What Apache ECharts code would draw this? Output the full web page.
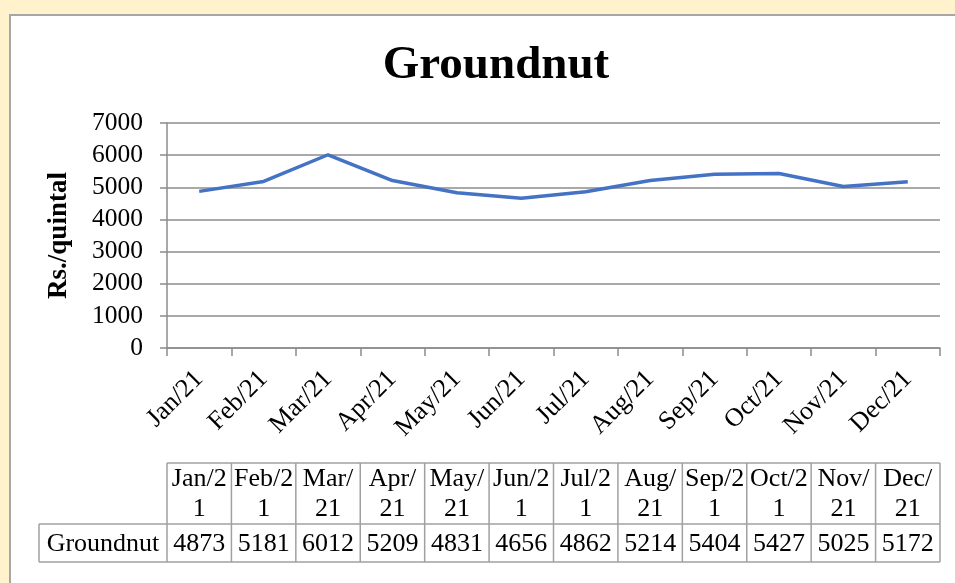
<!DOCTYPE html>
<html>
<head>
<meta charset="utf-8">
<script src="https://cdn.jsdelivr.net/npm/echarts@6/dist/echarts.min.js"></script>
<style>
html,body{margin:0;padding:0;background:#FFF2CC;}
#chart{width:955px;height:583px;}
</style>
</head>
<body>
<div id="chart"></div>
<script>
var titleText = 'Groundnut';
var seriesName = 'Groundnut';
var yAxisName = 'Rs./quintal';
var categories = ['Jan/21','Feb/21','Mar/21','Apr/21','May/21','Jun/21','Jul/21','Aug/21','Sep/21','Oct/21','Nov/21','Dec/21'];
var tableHeaders = ['Jan/2\n1','Feb/2\n1','Mar/\n21','Apr/\n21','May/\n21','Jun/2\n1','Jul/2\n1','Aug/\n21','Sep/2\n1','Oct/2\n1','Nov/\n21','Dec/\n21'];
var values = [4873,5181,6012,5209,4831,4656,4862,5214,5404,5427,5025,5172];
var yMin = 0, yMax = 7000, yInterval = 1000;

var FONT = "'Liberation Serif','Times New Roman',serif";
var chart = echarts.init(document.getElementById('chart'), null, {renderer:'canvas'});
var gridLeft = 167, gridRight = 15, gridTop = 123, gridBottom = 235;

chart.setOption({
  backgroundColor: '#FFF2CC',
  animation: false,
  title: {
    text: titleText, left: 491, top: 37, textAlign: 'center',
    textStyle: {fontFamily: FONT, fontSize: 47, fontWeight: 'bold', color: '#000'}
  },
  grid: {left: gridLeft, right: gridRight, top: gridTop, bottom: gridBottom, containLabel: false},
  xAxis: {
    type: 'category', data: categories, boundaryGap: true,
    axisLine: {show: true, lineStyle: {color: '#8c8c8c', width: 1.5}},
    axisTick: {show: true, length: 8, lineStyle: {color: '#8c8c8c', width: 1.5}},
    axisLabel: {rotate: 45, interval: 0, margin: 27, fontFamily: FONT, fontSize: 26, color: '#000'},
    splitLine: {show: false}
  },
  yAxis: {
    type: 'value', min: yMin, max: yMax, interval: yInterval,
    name: yAxisName, nameLocation: 'middle', nameGap: 94, nameRotate: 90,
    nameTextStyle: {fontFamily: FONT, fontSize: 27, fontWeight: 'bold', color: '#000'},
    axisLine: {show: true, lineStyle: {color: '#8c8c8c', width: 1.5}},
    axisTick: {show: true, length: 7, lineStyle: {color: '#8c8c8c', width: 1.5}},
    axisLabel: {margin: 24, fontFamily: FONT, fontSize: 25.5, color: '#000', formatter: function (v) { return String(v); }},
    splitLine: {show: true, lineStyle: {color: '#8c8c8c', width: 1.5}}
  },
  series: [{
    name: seriesName, type: 'line', data: values, symbol: 'none',
    lineStyle: {color: '#4472C4', width: 3.5}, itemStyle: {color: '#4472C4'}
  }]
});

// Build white panel and data table from the axis scale
var els = [];
els.push({type:'rect', z:-10, silent:true, shape:{x:10, y:15, width:980, height:620},
  style:{fill:'#ffffff', stroke:'#a6a6a6', lineWidth:2}});
var bounds = [];
for (var i = 0; i < categories.length; i++) {
  var c = chart.convertToPixel({xAxisIndex:0}, i);
  var c2 = chart.convertToPixel({xAxisIndex:0}, i === 0 ? 1 : i - 1);
  var w = Math.abs(c2 - c);
  bounds.push([c - w/2, c + w/2, c]);
}
var hTop = 463, hBot = 524, rBot = 562, firstLeft = 39;
var lineStyle = {stroke:'#a0a0a0', lineWidth:1.5};
var tLeft = bounds[0][0], tRight = bounds[bounds.length-1][1];
els.push({type:'line', shape:{x1:tLeft, y1:hTop, x2:tRight, y2:hTop}, style:lineStyle});
els.push({type:'line', shape:{x1:firstLeft, y1:hBot, x2:tRight, y2:hBot}, style:lineStyle});
els.push({type:'line', shape:{x1:firstLeft, y1:rBot, x2:tRight, y2:rBot}, style:lineStyle});
els.push({type:'line', shape:{x1:firstLeft, y1:hBot, x2:firstLeft, y2:rBot}, style:lineStyle});
for (var j = 0; j < bounds.length; j++) {
  els.push({type:'line', shape:{x1:bounds[j][0], y1:hTop, x2:bounds[j][0], y2:rBot}, style:lineStyle});
  els.push({type:'text', style:{x:bounds[j][2], y:(hTop+hBot)/2+1, text:tableHeaders[j], align:'center', verticalAlign:'middle',
    font:'26px ' + FONT, lineHeight:30, fill:'#000'}});
  els.push({type:'text', style:{x:bounds[j][2], y:(hBot+rBot)/2+1, text:String(values[j]), align:'center', verticalAlign:'middle',
    font:'26px ' + FONT, fill:'#000'}});
}
els.push({type:'line', shape:{x1:tRight, y1:hTop, x2:tRight, y2:rBot}, style:lineStyle});
els.push({type:'text', style:{x:(firstLeft+tLeft)/2, y:(hBot+rBot)/2+1, text:seriesName, align:'center', verticalAlign:'middle',
  font:'26px ' + FONT, fill:'#000'}});
chart.setOption({graphic: els});
</script>
</body>
</html>
